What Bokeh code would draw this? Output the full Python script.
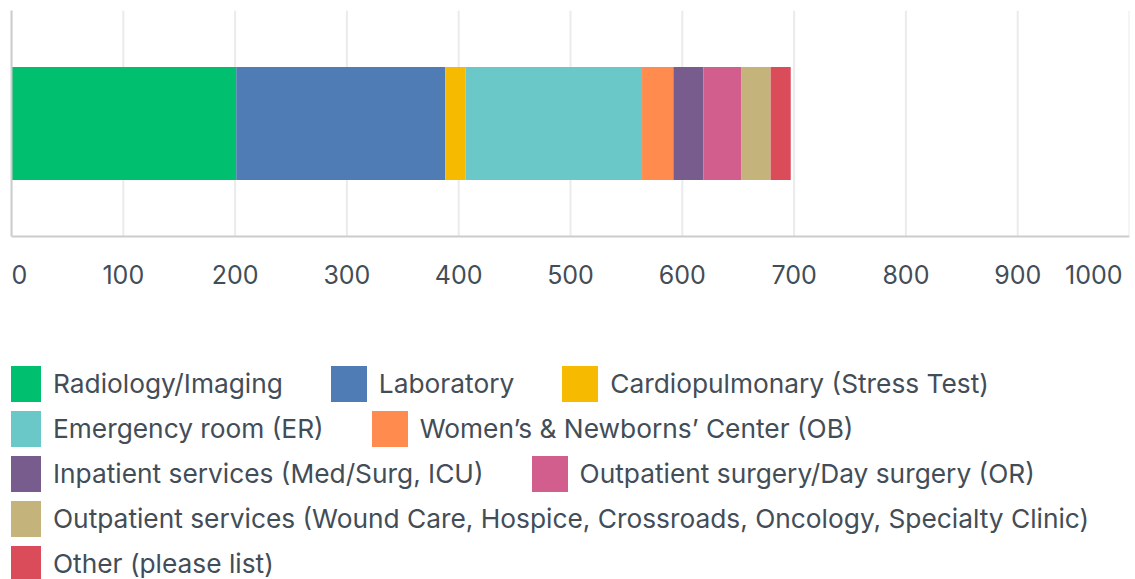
from bokeh.plotting import figure
from bokeh.models import ColumnDataSource, Range1d, FixedTicker, Legend, LegendItem, Label
from bokeh.layouts import column
from bokeh.embed import file_html
from bokeh.resources import INLINE

# ---- data ----
categories = [
    "Radiology/Imaging",
    "Laboratory",
    "Cardiopulmonary (Stress Test)",
    "Emergency room (ER)",
    "Women\u2019s & Newborns\u2019 Center (OB)",
    "Inpatient services (Med/Surg, ICU)",
    "Outpatient surgery/Day surgery (OR)",
    "Outpatient services (Wound Care, Hospice, Crossroads, Oncology, Specialty Clinic)",
    "Other (please list)",
]
counts = [201, 187, 18, 158, 28, 27, 34, 26, 18]
colors = ["#00BF6F", "#507CB6", "#F6BA00", "#6BC8C9", "#FF8B4F",
          "#785C8D", "#D15E8D", "#C4B37A", "#DB4C5B"]
tick_values = [0, 100, 200, 300, 400, 500, 600, 700, 800, 900, 1000]
tick_labels = ["0", "100", "200", "300", "400", "500", "600", "700", "800", "900", "1000"]
legend_rows = [[0, 1, 2], [3, 4], [5, 6], [7], [8]]

FONT = "Inter"
TICK_FS = "25px"
LEG_FS = "26.3px"
TEXT = "#434d57"
GRID = "#ebebeb"
AXIS = "#cccccc"

# layout constants (pixels)
PLOT_H = 226          # height of the bar area (y from -1 to 1)
FRAME_H = 290         # frame also holds the tick labels
PX_PER_UNIT = PLOT_H / 2.0
Y0 = -1 - (FRAME_H - PLOT_H) / PX_PER_UNIT
STANDOFF = 28

# ---- chart ----
keys = ["s%d" % i for i in range(len(categories))]
data = {"y": [0]}
for k, v in zip(keys, counts):
    data[k] = [v]
src = ColumnDataSource(data)

p = figure(frame_width=1118, frame_height=FRAME_H,
           x_range=Range1d(tick_values[0], tick_values[-1]), y_range=Range1d(Y0, 1),
           output_backend="svg", toolbar_location=None,
           min_border_left=11, min_border_right=6, min_border_top=10, min_border_bottom=0)

grid_src = ColumnDataSource(dict(x=tick_values, y0=[-1] * len(tick_values), y1=[1] * len(tick_values)))
p.segment(x0="x", x1="x", y0="y0", y1="y1", source=grid_src, line_color=GRID,
          line_width=2, level="underlay")
p.hbar_stack(keys, y="y", height=1, color=colors, line_color=None, source=src)
p.grid.visible = False

xa = p.xaxis[0]
xa.fixed_location = -1
xa.ticker = FixedTicker(ticks=tick_values[1:-1])
xa.major_label_overrides = {t: l for t, l in zip(tick_values, tick_labels)}
xa.axis_line_color = AXIS
xa.axis_line_width = 2
xa.major_tick_line_color = None
xa.minor_tick_line_color = None
xa.major_tick_out = 0
xa.major_tick_in = 0
xa.major_label_standoff = STANDOFF
xa.major_label_text_font = FONT
xa.major_label_text_font_size = TICK_FS
xa.major_label_text_color = TEXT

ya = p.yaxis[0]
ya.bounds = (-1, 1)
ya.ticker = FixedTicker(ticks=[])
ya.major_label_text_font_size = "0px"
ya.major_tick_line_color = None
ya.minor_tick_line_color = None
ya.major_tick_out = 0
ya.major_label_standoff = 0
ya.axis_line_color = AXIS
ya.axis_line_width = 2
p.outline_line_color = None

for i, align, off in ((0, "left", 0), (len(tick_values) - 1, "right", -7)):
    p.add_layout(Label(x=tick_values[i], y=-1, y_offset=-STANDOFF, x_offset=off,
                       text=tick_labels[i], text_align=align, text_baseline="top",
                       text_font=FONT, text_font_size=TICK_FS, text_color=TEXT))

# ---- legend ----
p2 = figure(width=1135, height=279, x_range=Range1d(0, 1), y_range=Range1d(0, 1),
            output_backend="svg", toolbar_location=None,
            x_axis_location=None, y_axis_location=None, min_border=0)
p2.grid.visible = False
p2.outline_line_color = None

rends = [p2.rect(x=[5], y=[5], width=1, height=1, fill_color=c, line_color=None) for c in colors]

for r, row in enumerate(legend_rows):
    items = [LegendItem(label=categories[i], renderers=[rends[i]]) for i in row]
    leg = Legend(items=items, orientation="horizontal", location=(-11, 173 - 45 * r),
                 glyph_width=45, glyph_height=45, label_standoff=8, spacing=43,
                 padding=0, margin=0, border_line_color=None, background_fill_alpha=0,
                 label_text_font=FONT, label_text_font_size=LEG_FS, label_text_color=TEXT)
    p2.add_layout(leg, "center")

layout = column(p, p2)
open("out.html", "w").write(file_html(layout, INLINE))
